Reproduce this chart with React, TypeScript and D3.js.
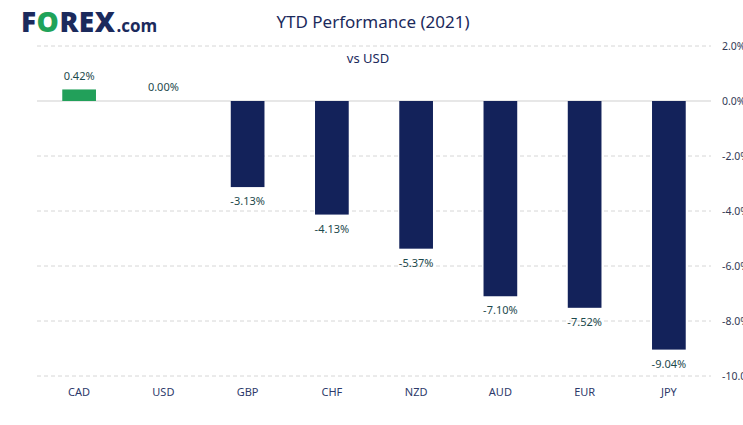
import * as d3 from "d3";

const currencies = ["CAD", "USD", "GBP", "CHF", "NZD", "AUD", "EUR", "JPY"];
const ytdValues = [0.42, 0.0, -3.13, -4.13, -5.37, -7.1, -7.52, -9.04];
const yTicks = [2, 0, -2, -4, -6, -8, -10];

const svgWidth = 743,
  svgHeight = 425;
const margin = { top: 46, right: 32, bottom: 49, left: 37 };
const width = svgWidth - margin.left - margin.right;
const height = svgHeight - margin.top - margin.bottom;

const font = "'Noto Sans', sans-serif";

export default function App() {
  const x = d3.scaleBand().domain(currencies).range([0, width]).paddingInner(0.6).paddingOuter(0.3);
  const y = d3.scaleLinear().domain([-10, 2]).range([height, 0]);

  return (
    <svg
      width={svgWidth}
      height={svgHeight}
      style={{ position: "absolute", left: 0, top: 0, background: "#fff" }}
    >
      {/* logo */}
      <text
        x={21}
        y={32}
        fontFamily="'Open Sans', sans-serif"
        fontWeight={800}
        fontSize={28}
        letterSpacing={0.5}
        fill="#1b2a5c"
      >
        F<tspan fill="#1fa35a">O</tspan>REX
        <tspan fontSize={17} fontWeight={700} letterSpacing={0} dx={1}>.com</tspan>
      </text>
      <text x={373} y={28} textAnchor="middle" fontFamily={font} fontSize={17} fill="#1b2a5c">
        YTD Performance (2021)
      </text>
      <text x={368} y={63} textAnchor="middle" fontFamily={font} fontSize={13} fill="#1b2a5c">
        vs USD
      </text>
      <g transform={`translate(${margin.left},${margin.top})`}>
        {yTicks.map((t) => (
          <g key={t}>
            <line
              x1={0}
              x2={width}
              y1={y(t)}
              y2={y(t)}
              stroke={t === 0 ? "#cfcfcf" : "#d6d6d6"}
              strokeDasharray={t === 0 ? undefined : "4,3"}
            />
            <text
              x={width + 11}
              y={y(t) + 4}
              fontFamily={font}
              fontSize={10.5}
              fill="#333a55"
            >
              {t.toFixed(1)}%
            </text>
          </g>
        ))}
        {currencies.map((c, i) => {
          const v = ytdValues[i];
          const cx = x(c)! + x.bandwidth() / 2;
          return (
            <g key={c}>
              <rect
                x={x(c)}
                y={y(Math.max(0, v))}
                width={x.bandwidth()}
                height={Math.abs(y(v) - y(0))}
                fill={v >= 0 ? "#22a05a" : "#13225a"}
              />
              <text
                x={cx}
                y={v > 0 ? y(v) - 9 : v === 0 ? y(0) - 10 : y(v) + 18}
                textAnchor="middle"
                fontFamily={font}
                fontSize={11}
                fill="#1d4a4d"
              >
                {v.toFixed(2)}%
              </text>
              <text
                x={cx}
                y={height + 20}
                textAnchor="middle"
                fontFamily={font}
                fontSize={11}
                fill="#2d3a6b"
              >
                {c}
              </text>
            </g>
          );
        })}
      </g>
    </svg>
  );
}
